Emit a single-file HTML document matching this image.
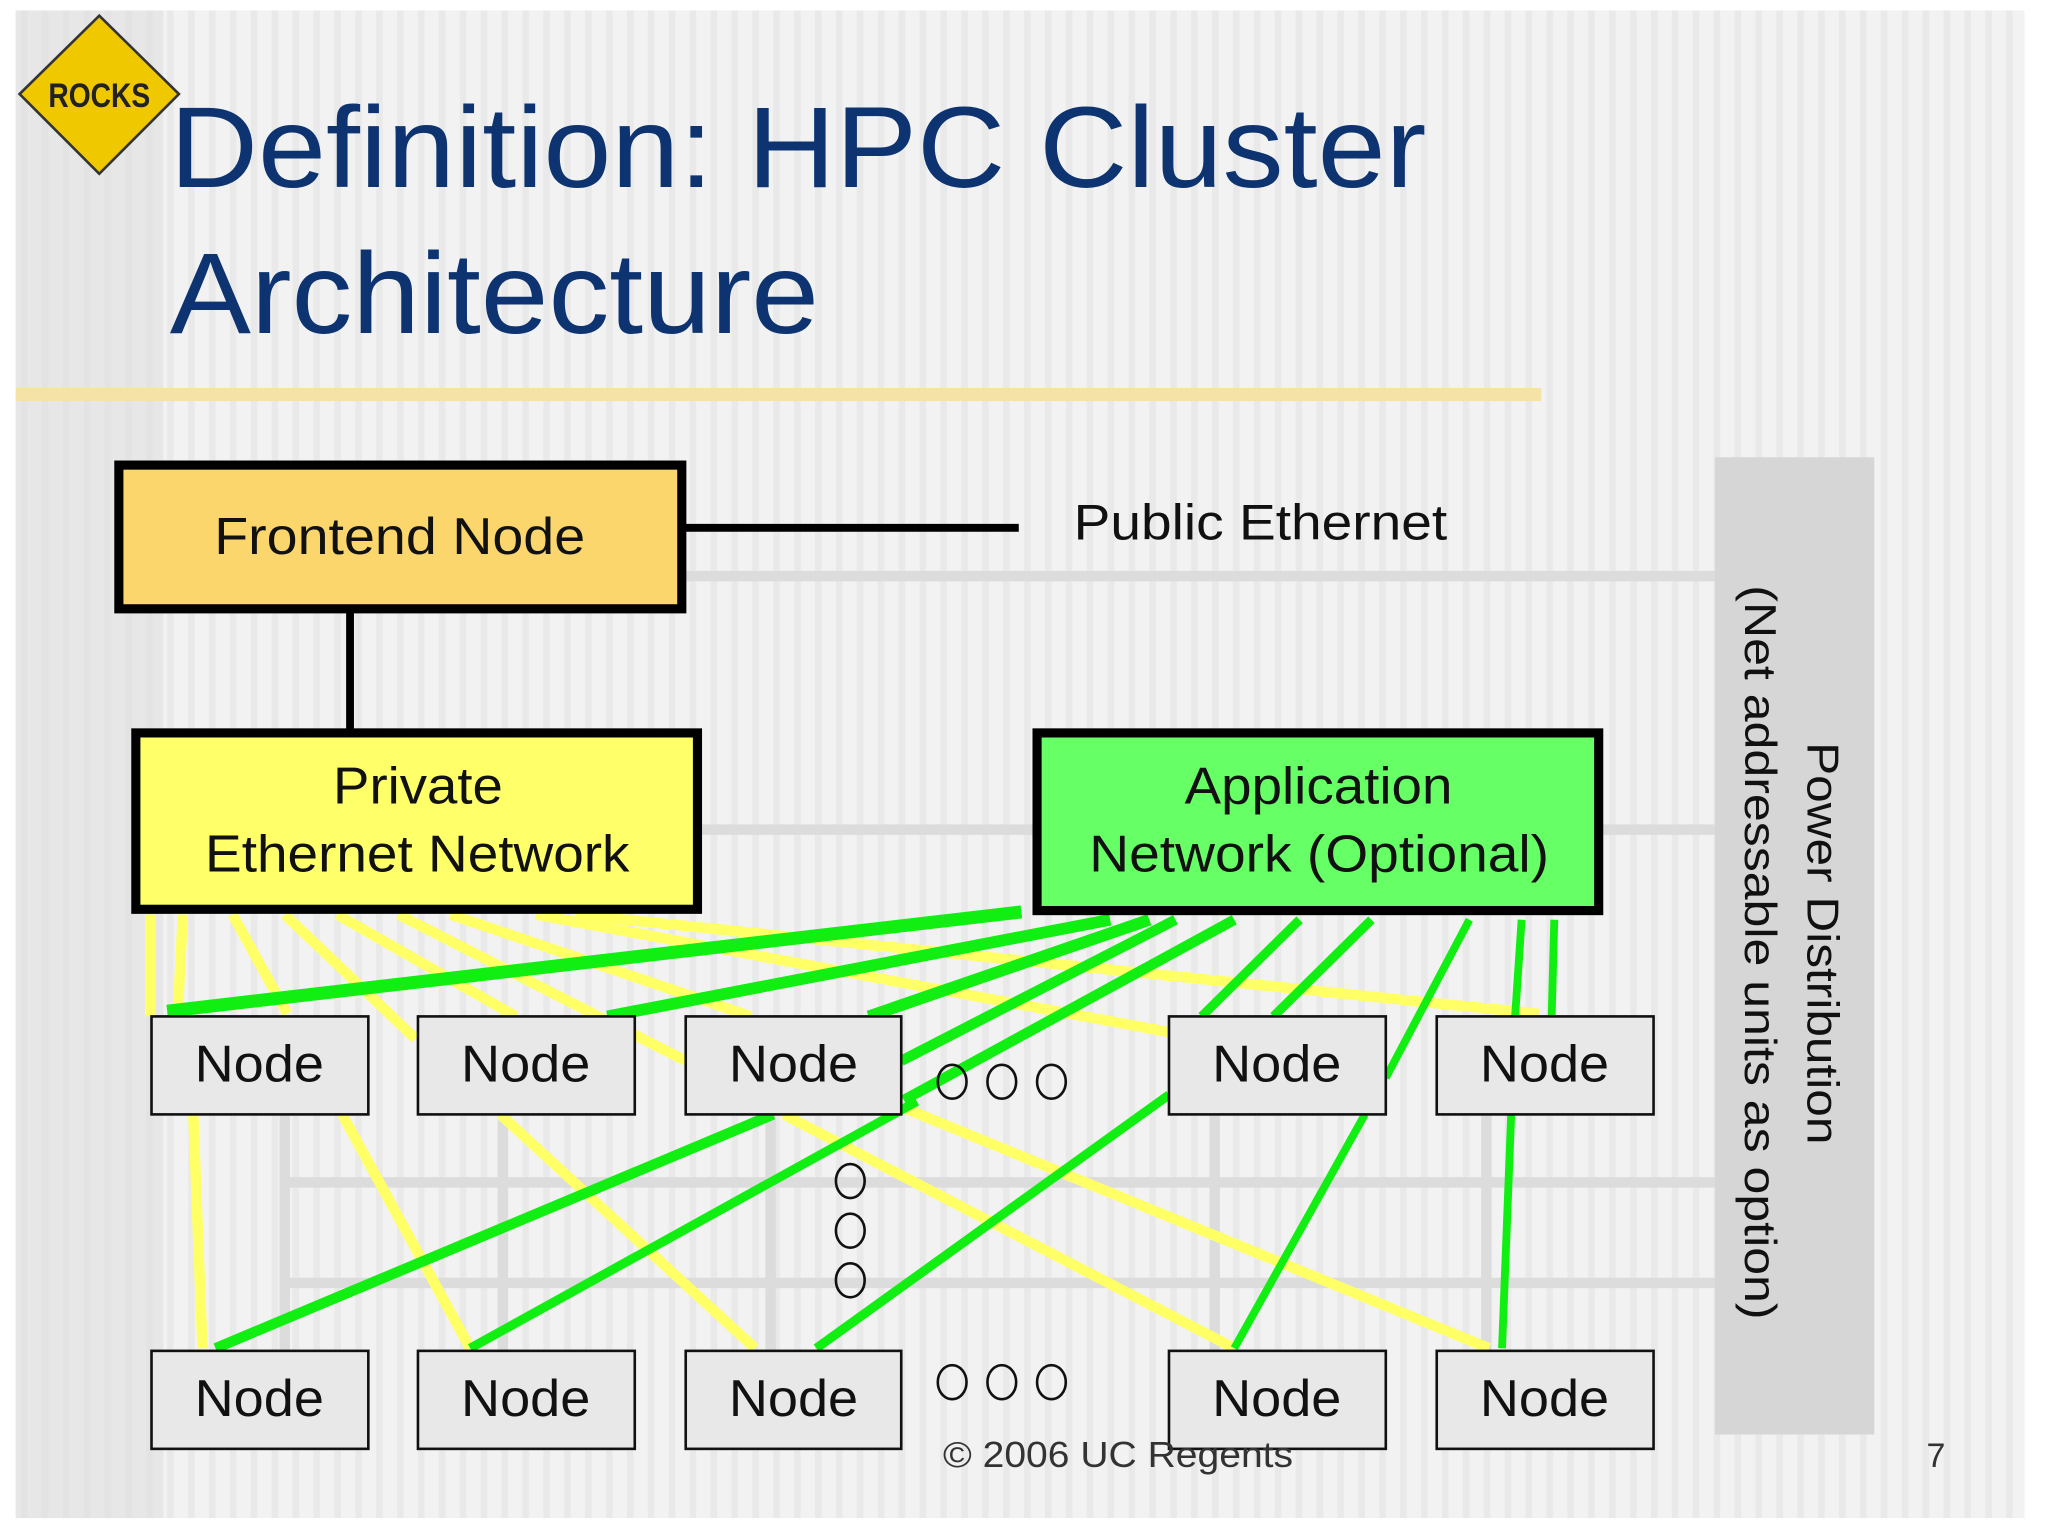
<!DOCTYPE html>
<html><head><meta charset="utf-8"><style>
html,body{margin:0;padding:0;background:#fff}
svg{display:block}
text{font-family:"Liberation Sans",Arial,sans-serif}
</style></head><body>
<svg width="2048" height="1539" viewBox="0 0 1568 1178" preserveAspectRatio="none" xmlns="http://www.w3.org/2000/svg">
<defs>
<pattern id="st" width="16" height="10" patternUnits="userSpaceOnUse">
<rect width="16" height="10" fill="#f2f2f2"/>
<rect x="0" width="5" height="10" fill="#e9e9e9"/>
</pattern>
</defs>
<rect width="1568" height="1178" fill="#fff"/>
<rect x="12" y="8" width="1538" height="1154" fill="url(#st)"/>
<rect x="12" y="8" width="113" height="1154" fill="#e0e0e0" opacity="0.6"/>
<rect x="12" y="297" width="1168" height="10" fill="#f4e2a6"/>
<polygon points="76,12 137,72 76,133 15,72" fill="#f0c800" stroke="#333" stroke-width="2"/>
<text x="76" y="82" font-size="26" font-weight="bold" text-anchor="middle" fill="#222" textLength="78" lengthAdjust="spacingAndGlyphs">ROCKS</text>
<text x="130" y="143" font-size="88" fill="#0d3470" textLength="962" lengthAdjust="spacingAndGlyphs">Definition: HPC Cluster</text>
<text x="130" y="255" font-size="88" fill="#0d3470" textLength="497" lengthAdjust="spacingAndGlyphs">Architecture</text>
<g stroke="#dcdcdc" stroke-width="8" fill="none">
<line x1="525" y1="441" x2="1313" y2="441"/>
<line x1="537" y1="635" x2="791" y2="635"/>
<line x1="1227" y1="635" x2="1313" y2="635"/>
<line x1="215" y1="905" x2="1313" y2="905"/>
<line x1="215" y1="982" x2="1313" y2="982"/>
<line x1="218" y1="853" x2="218" y2="1034"/>
<line x1="385" y1="853" x2="385" y2="1034"/>
<line x1="590" y1="853" x2="590" y2="1034"/>
<line x1="930" y1="853" x2="930" y2="1034"/>
<line x1="1138" y1="853" x2="1138" y2="1034"/>
</g>
<rect x="1313" y="350" width="122" height="748" fill="#d6d6d6"/>
<text transform="translate(1384,568) rotate(90)" font-size="34" fill="#111" textLength="308" lengthAdjust="spacingAndGlyphs">Power Distribution</text>
<text transform="translate(1336,448) rotate(90)" font-size="34" fill="#111" textLength="562" lengthAdjust="spacingAndGlyphs">(Net addressable units as option)</text>
<g stroke="#ffff66" stroke-width="8" fill="none">
<line x1="115" y1="700" x2="115" y2="778"/>
<line x1="140" y1="700" x2="136" y2="778"/>
<line x1="148" y1="853" x2="155" y2="1032"/>
<line x1="178" y1="700" x2="220" y2="776"/>
<line x1="218" y1="700" x2="318" y2="795"/>
<line x1="262" y1="853" x2="360" y2="1032"/>
<line x1="258" y1="700" x2="395" y2="778"/>
<line x1="305" y1="700" x2="525" y2="812"/>
<line x1="345" y1="700" x2="575" y2="778"/>
<line x1="383" y1="853" x2="578" y2="1032"/>
<line x1="410" y1="700" x2="895" y2="790"/>
<line x1="440" y1="700" x2="1178" y2="776"/>
<line x1="600" y1="853" x2="945" y2="1032"/>
<line x1="692" y1="848" x2="1140" y2="1032"/>
</g>
<g stroke="#11ee11" fill="none">
<line x1="782" y1="698" x2="128" y2="774" stroke-width="10"/>
<line x1="850" y1="704" x2="465" y2="778" stroke-width="9"/>
<line x1="880" y1="704" x2="665" y2="778" stroke-width="9"/>
<line x1="900" y1="704" x2="690" y2="812" stroke-width="8"/>
<line x1="945" y1="704" x2="692" y2="842" stroke-width="8"/>
<line x1="995" y1="704" x2="920" y2="778" stroke-width="7"/>
<line x1="1050" y1="704" x2="975" y2="778" stroke-width="7"/>
<line x1="1125" y1="704" x2="1061" y2="825" stroke-width="6"/>
<line x1="1165" y1="704" x2="1160" y2="778" stroke-width="6"/>
<line x1="1190" y1="704" x2="1188" y2="778" stroke-width="6"/>
<line x1="592" y1="853" x2="165" y2="1032" stroke-width="8"/>
<line x1="702" y1="843" x2="360" y2="1032" stroke-width="7"/>
<line x1="895" y1="838" x2="625" y2="1032" stroke-width="7"/>
<line x1="1045" y1="853" x2="945" y2="1032" stroke-width="6"/>
<line x1="1157" y1="853" x2="1150" y2="1032" stroke-width="6"/>
</g>
<line x1="525" y1="404" x2="780" y2="404" stroke="#000" stroke-width="6"/>
<line x1="268" y1="469" x2="268" y2="558" stroke="#000" stroke-width="6"/>
<rect x="91" y="356" width="431" height="110" fill="#fad66c" stroke="#000" stroke-width="7"/>
<text x="164" y="424" font-size="40" fill="#111" textLength="284" lengthAdjust="spacingAndGlyphs">Frontend Node</text>
<text x="822" y="413" font-size="38" fill="#111" textLength="286" lengthAdjust="spacingAndGlyphs">Public Ethernet</text>
<rect x="104" y="561" width="430" height="135" fill="#ffff6a" stroke="#000" stroke-width="7"/>
<text x="255" y="615" font-size="40" fill="#111" textLength="130" lengthAdjust="spacingAndGlyphs">Private</text>
<text x="157" y="667" font-size="40" fill="#111" textLength="325" lengthAdjust="spacingAndGlyphs">Ethernet Network</text>
<rect x="794" y="561" width="430" height="136" fill="#66ff66" stroke="#000" stroke-width="7"/>
<text x="907" y="615" font-size="40" fill="#111" textLength="205" lengthAdjust="spacingAndGlyphs">Application</text>
<text x="834" y="667" font-size="40" fill="#111" textLength="352" lengthAdjust="spacingAndGlyphs">Network (Optional)</text>
<g fill="#e8e8e8" stroke="#111" stroke-width="2">
<rect x="116" y="778" width="166" height="75"/><rect x="320" y="778" width="166" height="75"/><rect x="525" y="778" width="165" height="75"/><rect x="895" y="778" width="166" height="75"/><rect x="1100" y="778" width="166" height="75"/>
<rect x="116" y="1034" width="166" height="75"/><rect x="320" y="1034" width="166" height="75"/><rect x="525" y="1034" width="165" height="75"/><rect x="895" y="1034" width="166" height="75"/><rect x="1100" y="1034" width="166" height="75"/>
</g>
<g font-size="40" fill="#111">
<text x="149" y="828" textLength="99" lengthAdjust="spacingAndGlyphs">Node</text><text x="353" y="828" textLength="99" lengthAdjust="spacingAndGlyphs">Node</text><text x="558" y="828" textLength="99" lengthAdjust="spacingAndGlyphs">Node</text><text x="928" y="828" textLength="99" lengthAdjust="spacingAndGlyphs">Node</text><text x="1133" y="828" textLength="99" lengthAdjust="spacingAndGlyphs">Node</text>
<text x="149" y="1084" textLength="99" lengthAdjust="spacingAndGlyphs">Node</text><text x="353" y="1084" textLength="99" lengthAdjust="spacingAndGlyphs">Node</text><text x="558" y="1084" textLength="99" lengthAdjust="spacingAndGlyphs">Node</text><text x="928" y="1084" textLength="99" lengthAdjust="spacingAndGlyphs">Node</text><text x="1133" y="1084" textLength="99" lengthAdjust="spacingAndGlyphs">Node</text>
</g>
<g fill="none" stroke="#111" stroke-width="2">
<ellipse cx="729" cy="828" rx="11" ry="13"/><ellipse cx="767" cy="828" rx="11" ry="13"/><ellipse cx="805" cy="828" rx="11" ry="13"/>
<ellipse cx="729" cy="1058" rx="11" ry="13"/><ellipse cx="767" cy="1058" rx="11" ry="13"/><ellipse cx="805" cy="1058" rx="11" ry="13"/>
<ellipse cx="651" cy="904" rx="11" ry="13"/><ellipse cx="651" cy="942" rx="11" ry="13"/><ellipse cx="651" cy="980" rx="11" ry="13"/>
</g>
<text x="722" y="1123" font-size="28" fill="#333" textLength="268" lengthAdjust="spacingAndGlyphs">© 2006 UC Regents</text>
<text x="1475" y="1123" font-size="26" fill="#333">7</text>
</svg>
</body></html>
